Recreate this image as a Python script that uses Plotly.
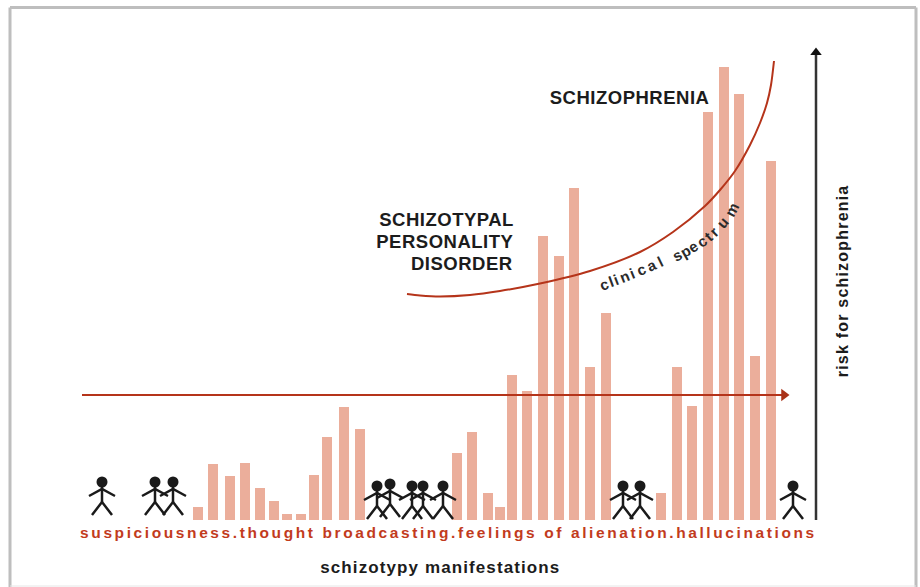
import plotly.graph_objects as go

# ---------- data ----------
bar_positions = [198, 213, 230, 245, 260, 274, 287, 301, 314, 327, 344, 360,
                 457, 472, 488, 500, 512, 527, 543, 559, 574, 590, 606,
                 661, 677, 692, 708, 724, 739, 755, 771]
bar_values = [13, 56, 44, 57, 32, 19, 6, 6, 45, 83, 113, 91,
              67, 88, 27, 13, 145, 129, 284, 264, 332, 153, 207,
              27, 153, 114, 408, 453, 426, 164, 359]

curve_x = [407, 420, 440, 470, 500, 540, 590, 640, 673, 705, 720, 735, 750, 760, 767, 771, 774]
curve_y = [226, 224.5, 223.5, 225, 229, 236.5, 249, 268, 288, 314, 330, 349, 375, 397, 417, 435, 459]

threshold_x = [82, 782]
threshold_y = [125, 125]

axis_x = [816, 816]
axis_y = [0, 465]

people_x = [102, 155, 173, 377, 390, 412, 423, 443, 623, 640, 793]
people_y = [5, 5, 5, 1, 3, 1, 1, 1, 1, 1, 1]

manifestations = "suspiciousness.thought broadcasting.feelings of alienation.hallucinations"
x_title = "schizotypy manifestations"
y_title = "risk for schizophrenia"
label_schizophrenia = "SCHIZOPHRENIA"
label_spd = ["SCHIZOTYPAL", "PERSONALITY", "DISORDER"]
spd_y = [301, 279, 257]

spectrum_chars = list("clinicalspectrum")
spectrum_x = [603.7, 610.7, 616.3, 624.2, 632, 641, 651, 660, 676.7, 685, 693.3, 701.7, 708.3, 714, 722.5, 731]
spectrum_y = [235.5, 238.3, 240.5, 243.6, 246.8, 250.5, 255, 259, 264.3, 268.3, 273.3, 278.3, 283.3, 288.3, 297.5, 310]
spectrum_rot = [-20, -20, -21, -21, -22, -23, -24, -26, -28, -30, -33, -36, -40, -45, -50, -62]

# ---------- colours ----------
BAR = "#EBAE9B"
RED = "#B5341A"
TEXT_RED = "#C23B1D"
INK = "#1C1C1C"

fig = go.Figure()

fig.add_trace(go.Bar(x=bar_positions, y=bar_values, width=10,
                     marker=dict(color=BAR, line=dict(width=0)), showlegend=False))

fig.add_trace(go.Scatter(x=curve_x, y=curve_y, mode="lines",
                         line=dict(color=RED, width=2, shape="spline", smoothing=0.8),
                         showlegend=False))

fig.add_trace(go.Scatter(x=threshold_x, y=threshold_y, mode="lines",
                         line=dict(color=RED, width=2), showlegend=False))
fig.add_trace(go.Scatter(x=[threshold_x[1] + 2], y=[threshold_y[1]], mode="markers",
                         marker=dict(symbol="triangle-right", size=11, color="#A93218"),
                         showlegend=False))

fig.add_trace(go.Scatter(x=axis_x, y=axis_y, mode="lines",
                         line=dict(color="#333333", width=2.5), showlegend=False))
fig.add_trace(go.Scatter(x=[axis_x[0]], y=[axis_y[1] + 2.5], mode="markers",
                         marker=dict(symbol="triangle-up", size=10, color="#111111"),
                         showlegend=False))

# stick figures
lx, ly = [], []
for px, py in zip(people_x, people_y):
    for seg in (
        [(0, 33), (0, 13)],
        [(-13, 19), (0, 26), (13, 19)],
        [(-10, 0), (0, 13), (10, 0)],
    ):
        lx += [px + a for a, _ in seg] + [None]
        ly += [py + b for _, b in seg] + [None]
fig.add_trace(go.Scatter(x=lx, y=ly, mode="lines",
                         line=dict(color="#1A1A1A", width=2.5), showlegend=False))
fig.add_trace(go.Scatter(x=people_x, y=[p + 33 for p in people_y], mode="markers",
                         marker=dict(color="#1A1A1A", size=11), showlegend=False))


def note(text, x, y, size, color=INK, anchor="center", angle=0):
    fig.add_annotation(text=text, x=x, y=y, xref="x", yref="y", showarrow=False,
                       xanchor=anchor, yanchor="middle", textangle=angle,
                       font=dict(family="Liberation Sans", size=size, color=color))


note(f"<b>{manifestations}</b>", 448, -12, 15.5, color=TEXT_RED)
note(f"<b>{x_title}</b>", 440, -47, 17)
note(f"<b>{y_title}</b>", 842, 239, 16, angle=-90)
note(f"<b>{label_schizophrenia}</b>", 629, 423, 18.5)
for t, y in zip(label_spd, spd_y):
    note(f"<b>{t}</b>", 513, y, 18.5, anchor="right")
for c, x, y, r in zip(spectrum_chars, spectrum_x, spectrum_y, spectrum_rot):
    note(f"<b>{c}</b>", x, y, 15, color="#2A2A2A", angle=r)

# outer frame: strong on three sides, faint along the bottom
for x0, y0, x1, y1, col in [
    (10, 7.5, 916, 7.5, "#BEBEBE"),
    (10, 7.5, 10, 587, "#BEBEBE"),
    (916, 7.5, 916, 587, "#BEBEBE"),
    (10, 586, 916, 586, "#E6E6E6"),
]:
    fig.add_shape(type="line", xref="paper", yref="paper", x0=x0 / 920, x1=x1 / 920,
                  y0=1 - y0 / 587, y1=1 - y1 / 587,
                  line=dict(color=col, width=3 if col == "#BEBEBE" else 1), layer="below")

fig.update_layout(
    width=920, height=587, autosize=False,
    margin=dict(l=0, r=0, t=0, b=0),
    paper_bgcolor="white", plot_bgcolor="white",
    showlegend=False,
    xaxis=dict(range=[0, 920], visible=False, fixedrange=True),
    yaxis=dict(range=[-67, 520], visible=False, fixedrange=True),
)

# no page margin, and the letter spacing plotly has no option for
page_js = """
document.body.style.margin = '0';
document.documentElement.style.overflow = 'hidden';
var spacing = {suspiciousness: '2.6px', schizotypy: '1.1px', risk: '1.2px',
               SCHIZOPHRENIA: '0.5px', SCHIZOTYPAL: '0.5px', PERSONALITY: '0.5px', DISORDER: '0.5px'};
document.querySelectorAll('.annotation-text').forEach(function (t) {
  var key = t.textContent.split(/[ .]/)[0];
  if (spacing[key]) t.style.letterSpacing = spacing[key];
});
"""
fig.write_html("out.html", post_script=page_js, config={"displayModeBar": False})
